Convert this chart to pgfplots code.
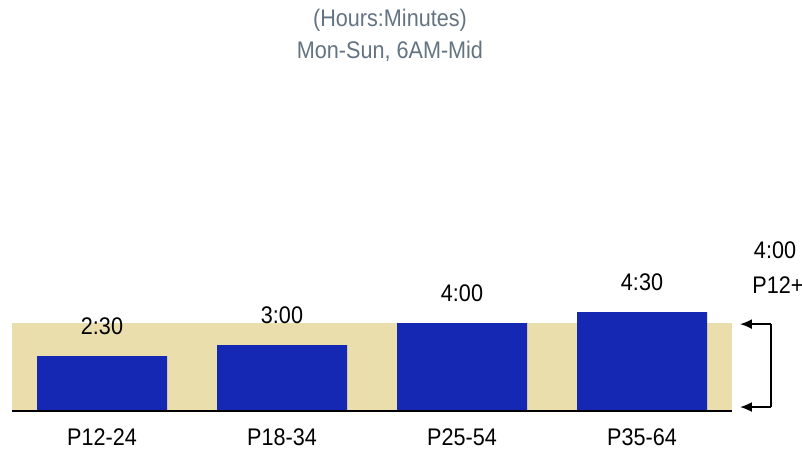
\documentclass[border=0pt]{standalone}
\usepackage{pgfplots}
\pgfplotsset{compat=1.18}
\usepackage{fontspec}
\setmainfont{Liberation Sans}[FakeStretch=0.9]
\usetikzlibrary{arrows.meta}
\definecolor{beige}{RGB}{233,222,172}
\definecolor{barblue}{RGB}{21,40,180}
\definecolor{subgray}{RGB}{100,115,130}
\begin{document}
\fontsize{12}{14.4}\selectfont
\begin{tikzpicture}
\useasboundingbox (0pt,0pt) rectangle (401pt,225pt);
\node[text=subgray,font=\fontsize{12}{14.4}\selectfont] at (195pt,215pt) {(Hours:Minutes)};
\node[text=subgray,font=\fontsize{12}{14.4}\selectfont] at (195pt,199.5pt) {Mon-Sun, 6AM-Mid};
\begin{axis}[
  at={(6pt,19.5pt)}, anchor=south west,
  scale only axis, width=360pt, height=110pt,
  xmin=-0.5, xmax=3.5, ymin=0, ymax=10,
  axis line style={draw=none},
  ytick=\empty,
  xtick={0,1,2,3},
  xticklabels={P12-24,P18-34,P25-54,P35-64},
  major tick length=0pt,
  xticklabel style={font=\fontsize{12}{14.4}\selectfont, anchor=center, yshift=-13.25pt},
  clip=false,
]
\addplot[fill=beige, draw=none] coordinates {(-0.5,4) (3.5,4)} \closedcycle;
\addplot[ybar, bar width=65pt, fill=barblue, draw=none,
  point meta=explicit symbolic,
  nodes near coords,
  nodes near coords style={font=\fontsize{12}{14.4}\selectfont, text=black, anchor=center, yshift=15pt}]
  coordinates {(0,2.5) [2:30] (1,3) [3:00] (2,4) [4:00] (3,4.5) [4:30]};
\addplot[black, line width=1pt] coordinates {(-0.5,0) (3.5,0)};
\draw[line width=1pt, -{Latex[length=6pt,width=5pt]}] (axis cs:3.717,3.95) -- (axis cs:3.544,3.95);
\draw[line width=1pt] (axis cs:3.717,3.95) -- (axis cs:3.717,0.18);
\draw[line width=1pt, -{Latex[length=6pt,width=5pt]}] (axis cs:3.717,0.18) -- (axis cs:3.544,0.18);
\end{axis}
\node at (387.5pt,100pt) {4:00};
\node[anchor=west, inner sep=0pt] at (376pt,82.5pt) {P12+};
\end{tikzpicture}
\end{document}
